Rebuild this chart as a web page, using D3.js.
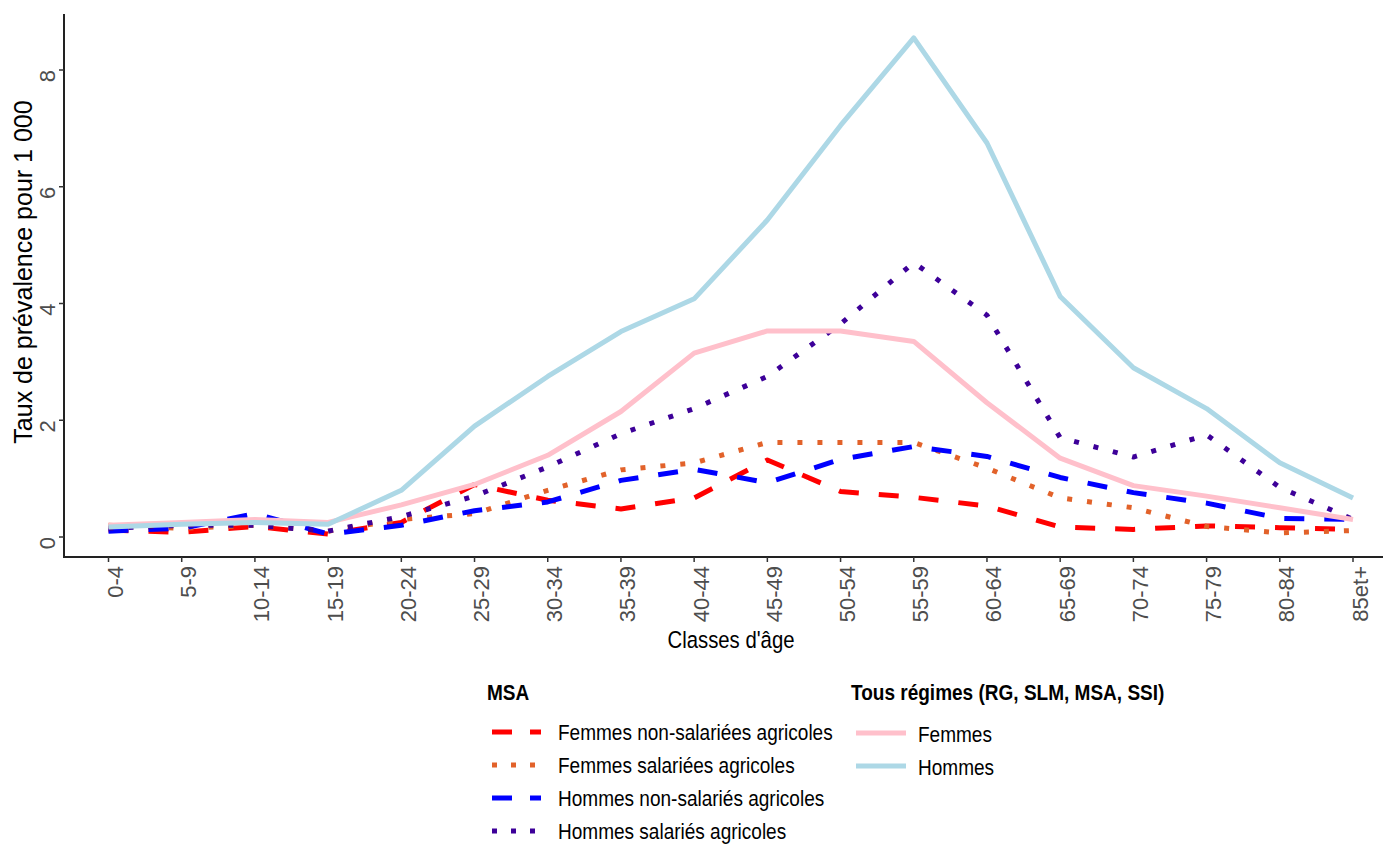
<!DOCTYPE html>
<html lang="en">
<head>
<meta charset="utf-8">
<title>Taux de prévalence par classe d'âge</title>
<script src="https://cdn.jsdelivr.net/npm/d3@7"></script>
<style>
  body { margin: 0; background: #fff; }
  svg text { font-family: "Liberation Sans", Arial, sans-serif; }
</style>
</head>
<body>
<script>
// age classes (x axis)
const ages = ["0-4","5-9","10-14","15-19","20-24","25-29","30-34","35-39","40-44","45-49",
              "50-54","55-59","60-64","65-69","70-74","75-79","80-84","85et+"];

// MSA series
const femmesNonSal = [0.12,0.08,0.18,0.05,0.25,0.9,0.63,0.48,0.67,1.32,0.78,0.68,0.53,0.17,0.13,0.19,0.16,0.13];
const femmesSal    = [0.2,0.15,0.2,0.1,0.3,0.4,0.8,1.15,1.27,1.62,1.62,1.62,1.18,0.67,0.5,0.18,0.07,0.11];
const hommesNonSal = [0.1,0.15,0.4,0.05,0.2,0.45,0.6,0.97,1.16,0.93,1.33,1.55,1.38,1.02,0.76,0.58,0.32,0.3];
const hommesSal    = [0.15,0.2,0.2,0.1,0.35,0.7,1.2,1.77,2.2,2.75,3.65,4.7,3.8,1.7,1.37,1.75,0.85,0.3];

// Tous régimes
const femmesTous = [0.2,0.25,0.3,0.25,0.55,0.9,1.4,2.15,3.15,3.53,3.53,3.35,2.3,1.35,0.88,0.7,0.5,0.3];
const hommesTous = [0.17,0.22,0.25,0.22,0.8,1.9,2.75,3.52,4.08,5.43,7.05,8.55,6.75,4.12,2.9,2.2,1.27,0.67];

const yTicks = [0, 2, 4, 6, 8];

const series = [
  { name: "Femmes non-salariées agricoles", values: femmesNonSal, color: "#FF0000", dash: "20,20" },
  { name: "Femmes salariées agricoles",     values: femmesSal,    color: "#E2622A", dash: "5,15" },
  { name: "Hommes non-salariés agricoles",  values: hommesNonSal, color: "#0000FF", dash: "20,20" },
  { name: "Hommes salariés agricoles",      values: hommesSal,    color: "#3D0099", dash: "5,15" },
  { name: "Femmes", values: femmesTous, color: "#FFC0CB", dash: null },
  { name: "Hommes", values: hommesTous, color: "#ADD8E6", dash: null }
];

const W = 1385, H = 844;
const svg = d3.select("body").append("svg").attr("width", W).attr("height", H);

const x = d3.scalePoint().domain(ages).range([108.5, 1353]);
const y = d3.scaleLinear().domain([0, 8]).range([537, 70]);

const axLeft = 64, axBottom = 557, axTop = 14, axRight = 1383;

// condensed-looking text (no narrow font installed, so squeeze horizontally)
function narrowText(parent, tx, ty, str, size, bold, anchor) {
  return parent.append("text")
    .attr("transform", `translate(${tx},${ty}) scale(0.865,1)`)
    .attr("font-size", size)
    .attr("font-weight", bold ? "bold" : null)
    .attr("text-anchor", anchor || "start")
    .attr("fill", "#000")
    .text(str);
}

// axes lines
svg.append("line").attr("x1", axLeft).attr("x2", axLeft).attr("y1", axTop).attr("y2", axBottom + 1)
  .attr("stroke", "#222").attr("stroke-width", 2);
svg.append("line").attr("x1", axLeft - 1).attr("x2", axRight).attr("y1", axBottom).attr("y2", axBottom)
  .attr("stroke", "#222").attr("stroke-width", 2);

// y ticks
const yg = svg.append("g");
yTicks.forEach(t => {
  yg.append("line").attr("x1", axLeft - 5).attr("x2", axLeft).attr("y1", y(t)).attr("y2", y(t))
    .attr("stroke", "#333").attr("stroke-width", 1.5);
  yg.append("text").attr("transform", `translate(55,${y(t) + 6}) rotate(-90)`)
    .attr("text-anchor", "middle").attr("font-size", 22).attr("fill", "#4D4D4D").text(t);
});

// x ticks
const xg = svg.append("g");
ages.forEach(a => {
  xg.append("line").attr("x1", x(a)).attr("x2", x(a)).attr("y1", axBottom).attr("y2", axBottom + 5)
    .attr("stroke", "#333").attr("stroke-width", 1.5);
  xg.append("text").attr("transform", `translate(${x(a) + 14.5},566) rotate(-90)`)
    .attr("text-anchor", "end").attr("font-size", 22).attr("fill", "#4D4D4D").text(a);
});

// axis titles
svg.append("text").attr("transform", "translate(32,272) rotate(-90)")
  .attr("text-anchor", "middle").attr("font-size", 25).attr("fill", "#000")
  .text("Taux de prévalence pour 1 000");
narrowText(svg, 731, 648, "Classes d'âge", 23.5, false, "middle");

// lines
const line = d3.line().x((d, i) => x(ages[i])).y(d => y(d));
series.forEach(s => {
  svg.append("path").datum(s.values).attr("d", line)
    .attr("fill", "none").attr("stroke", s.color).attr("stroke-width", 5)
    .attr("stroke-linejoin", "round")
    .attr("stroke-dasharray", s.dash);
});

// legends
const leg1 = svg.append("g").attr("transform", "translate(487,0)");
narrowText(leg1, 0, 700, "MSA", 22, true);
series.slice(0, 4).forEach((s, i) => {
  const yy = 732 + i * 33;
  leg1.append("line").attr("x1", 5).attr("x2", 54).attr("y1", yy).attr("y2", yy)
    .attr("stroke", s.color).attr("stroke-width", 5)
    .attr("stroke-dasharray", s.dash === "20,20" ? "20,18" : "5,14");
  narrowText(leg1, 71, yy + 7.5, s.name, 22, false);
});

const leg2 = svg.append("g").attr("transform", "translate(851,0)");
narrowText(leg2, 0, 700, "Tous régimes (RG, SLM, MSA, SSI)", 22, true);
series.slice(4).forEach((s, i) => {
  const yy = 733 + i * 33;
  leg2.append("line").attr("x1", 5).attr("x2", 55).attr("y1", yy).attr("y2", yy)
    .attr("stroke", s.color).attr("stroke-width", 5);
  narrowText(leg2, 67, yy + 9, s.name, 22, false);
});
</script>
</body>
</html>
